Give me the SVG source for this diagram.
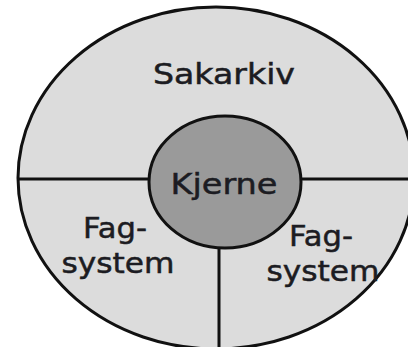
<svg xmlns="http://www.w3.org/2000/svg" width="408" height="347" viewBox="0 0 408 347">
  <style>
    .outline { stroke: #111; stroke-width: 3; }
    .divider { stroke: #111; stroke-width: 3; fill: none; }
    .label { font-family: "DejaVu Sans", "Liberation Sans", sans-serif; font-size: 28px; fill: #1c1c22; stroke: #1c1c22; stroke-width: 0.5; text-anchor: middle; }
  </style>
  <rect width="408" height="347" fill="#ffffff"/>

  <!-- Outer archive ring -->
  <g id="sakarkiv">
    <ellipse class="outline" cx="216" cy="178" rx="198" ry="171" fill="#dcdcdc"/>
    <text class="label" x="224" y="84" textLength="142" lengthAdjust="spacingAndGlyphs">Sakarkiv</text>
  </g>

  <!-- Dividing lines between the sectors -->
  <g id="connectors">
    <line class="divider" x1="17" y1="179" x2="408" y2="179"/>
    <line class="divider" x1="219" y1="240" x2="219" y2="347"/>
  </g>

  <!-- Left subject system -->
  <g id="fagsystem-left">
    <text class="label" x="115" y="238" textLength="64" lengthAdjust="spacingAndGlyphs">Fag-</text>
    <text class="label" x="118" y="273" textLength="113" lengthAdjust="spacingAndGlyphs">system</text>
  </g>

  <!-- Right subject system -->
  <g id="fagsystem-right">
    <text class="label" x="321" y="246" textLength="64" lengthAdjust="spacingAndGlyphs">Fag-</text>
    <text class="label" x="323" y="281" textLength="113" lengthAdjust="spacingAndGlyphs">system</text>
  </g>

  <!-- Core -->
  <g id="kjerne">
    <ellipse class="outline" cx="225" cy="182" rx="76" ry="66" fill="#9a9a9a"/>
    <text class="label" x="224" y="194" textLength="107" lengthAdjust="spacingAndGlyphs">Kjerne</text>
  </g>
</svg>
